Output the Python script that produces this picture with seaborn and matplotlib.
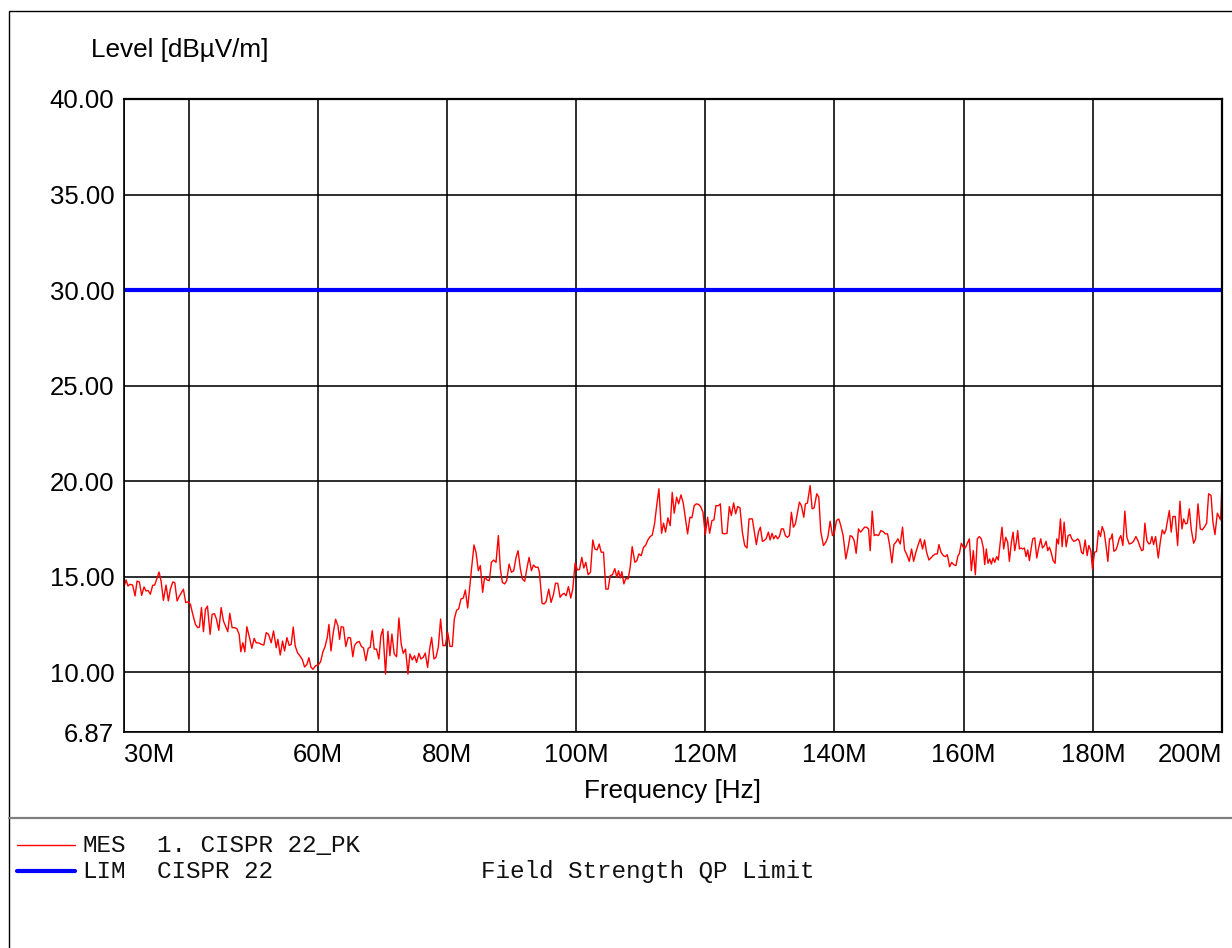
import numpy as np
import pandas as pd
import matplotlib
matplotlib.use("Agg")
import matplotlib.pyplot as plt
import seaborn as sns
from matplotlib.lines import Line2D
from matplotlib.patches import Rectangle

# ---------------- data (MHz, dBuV/m) ----------------
freq_a = [30.00, 30.31, 30.62, 30.93, 31.34, 31.71, 32.02, 32.38, 32.74, 33.10,
          33.41, 33.72, 34.08, 34.44, 34.75, 35.06, 35.43, 35.74, 36.10, 36.51,
          36.87, 37.18, 37.55, 37.86, 38.22, 38.58, 38.89, 39.20, 39.56, 39.97,
          40.28, 40.65, 41.06, 41.42, 41.68, 41.99, 42.30, 42.61, 42.92, 43.33,
          43.64, 44.01, 44.32, 44.68, 45.04, 45.40, 45.81, 46.07, 46.38, 46.74,
          47.11, 47.47, 47.83, 48.09, 48.40, 48.71, 49.02, 49.43, 49.79, 50.16,
          50.47, 50.88, 51.24, 51.65, 52.02, 52.38, 52.79, 53.15, 53.57, 53.82,
          54.19, 54.55, 54.86, 55.22, 55.58, 55.89, 56.20, 56.51, 56.87, 57.24,
          57.60, 57.96, 58.32, 58.63, 58.94, 59.25, 59.66, 60.08, 60.44, 60.80,
          61.11, 61.47, 61.73, 62.04, 62.40, 62.76, 63.13, 63.38]
level_a = [14.46, 14.83, 14.51, 14.60, 14.56, 13.99, 14.77, 14.72, 14.02, 14.46,
           14.25, 14.28, 14.08, 14.55, 14.56, 14.86, 15.24, 14.77, 13.76, 14.56,
           13.73, 14.34, 14.72, 14.69, 13.73, 13.99, 14.16, 14.34, 13.64, 13.69,
           13.55, 13.03, 12.50, 12.33, 12.36, 13.38, 12.12, 13.29, 13.46, 11.98,
           13.03, 13.06, 12.77, 12.19, 13.38, 12.68, 12.33, 12.12, 13.08, 12.33,
           12.33, 12.28, 11.98, 11.07, 11.54, 11.07, 12.38, 11.81, 11.25, 11.77,
           11.54, 11.53, 11.46, 11.42, 12.07, 11.98, 11.54, 12.16, 11.28, 11.72,
           10.90, 11.63, 11.11, 11.81, 11.40, 11.46, 12.36, 11.37, 11.02, 10.85,
           10.67, 10.27, 10.41, 10.76, 10.27, 10.15, 10.34, 10.38, 10.55, 11.07,
           11.32, 11.81, 12.50, 11.11, 12.07, 12.77, 12.42, 11.72]

freq_b = [63.62, 63.98, 64.34, 64.71, 65.07, 65.43, 65.69, 66.05, 66.41, 66.77,
          67.08, 67.45, 67.81, 68.12, 68.43, 68.74, 69.10, 69.46, 69.77, 70.08,
          70.49, 70.86, 71.17, 71.48, 71.84, 72.20, 72.56, 72.92, 73.23, 73.59,
          73.96, 74.27, 74.63, 74.99, 75.30, 75.66, 75.97, 76.33, 76.64, 77.01,
          77.32, 77.63, 77.99, 78.30, 78.66, 79.02, 79.38, 79.74, 80.11, 80.47,
          80.83, 81.14, 81.50, 81.81, 82.17, 82.53, 82.85, 83.21, 83.52, 83.83,
          84.19, 84.50, 84.86, 85.17, 85.53, 85.84, 86.20, 86.57, 86.88, 87.24,
          87.60, 87.96, 88.27, 88.58, 88.94, 89.25, 89.62, 89.98, 90.34, 90.70,
          91.01, 91.37, 91.68, 92.04, 92.41, 92.72, 93.08, 93.39, 93.75, 94.11,
          94.32]
level_b = [12.38, 12.35, 11.34, 11.82, 11.79, 10.81, 11.39, 11.56, 11.61, 11.34,
           11.27, 10.60, 11.25, 11.30, 12.17, 11.21, 11.21, 10.69, 11.91, 12.26,
           9.90, 12.14, 10.86, 12.00, 10.95, 10.81, 12.84, 11.47, 10.99, 11.21,
           9.90, 10.95, 10.64, 10.86, 10.51, 10.99, 10.69, 10.78, 11.00, 10.25,
           11.21, 11.82, 10.69, 10.78, 11.30, 12.78, 11.39, 11.39, 12.09, 11.35,
           11.35, 12.78, 13.25, 13.31, 13.83, 13.88, 14.30, 13.36, 14.44, 15.49,
           16.66, 16.27, 15.31, 15.58, 14.18, 15.00, 14.83, 14.79, 15.75, 15.87,
           15.75, 17.15, 15.40, 14.70, 14.62, 14.79, 15.66, 15.23, 15.31, 16.01,
           16.36, 15.40, 14.88, 14.76, 15.49, 16.01, 15.31, 15.61, 15.49, 15.49,
           15.23]

freq_c = [94.73, 95.04, 95.35, 95.76, 96.12, 96.49, 96.80, 97.16, 97.52, 97.83,
          98.14, 98.45, 98.81, 99.17, 99.48, 99.84, 100.21, 100.52, 100.88, 101.19,
          101.50, 101.86, 102.22, 102.58, 102.89, 103.26, 103.57, 103.88, 104.24, 104.60,
          104.96, 105.27, 105.63, 105.99, 106.30, 106.56, 106.82, 107.08, 107.39, 107.70,
          108.06, 108.37, 108.68, 109.10, 109.41, 109.72, 110.08, 110.44, 110.75, 111.11,
          111.47, 111.78, 112.14, 112.51, 112.82, 113.23, 113.54, 113.85, 114.21, 114.57,
          114.88, 115.19, 115.56, 115.87, 116.23, 116.59, 116.90, 117.26, 117.62, 117.93,
          118.29, 118.60, 118.97, 119.28, 119.64, 120.00, 120.36, 120.67, 121.03, 121.34,
          121.65, 122.02, 122.33, 122.64, 123.00, 123.36, 123.72, 124.03, 124.39, 124.70,
          125.01, 125.37, 125.74, 126.10, 126.46, 126.77]
level_c = [13.60, 13.57, 13.69, 14.35, 13.65, 14.06, 14.65, 14.65, 13.92, 14.06,
           14.13, 14.00, 14.48, 13.88, 14.35, 15.70, 15.35, 15.38, 16.01, 15.45,
           15.75, 15.10, 15.23, 16.92, 16.45, 16.40, 16.71, 16.28, 16.28, 14.35,
           14.35, 15.05, 15.10, 15.42, 14.97, 15.31, 14.93, 15.26, 14.62, 14.91,
           14.88, 15.49, 16.57, 15.75, 15.84, 16.19, 16.10, 16.54, 16.63, 16.92,
           17.10, 17.17, 17.76, 18.81, 19.60, 17.27, 17.80, 17.33, 18.08, 17.67,
           19.41, 18.32, 19.16, 18.81, 19.28, 18.85, 18.11, 17.24, 18.11, 18.08,
           18.72, 18.81, 18.78, 18.67, 18.37, 17.20, 18.11, 17.27, 17.94, 17.97,
           18.72, 18.71, 18.81, 17.27, 17.24, 17.27, 18.67, 18.20, 18.86, 18.29,
           18.67, 18.60, 17.33, 16.63, 16.50, 18.02]

freq_d = [127.29, 127.60, 127.91, 128.22, 128.53, 128.84, 129.10, 129.41, 129.77, 130.03,
          130.34, 130.59, 130.90, 131.21, 131.47, 131.78, 132.09, 132.40, 132.71, 133.02,
          133.33, 133.64, 133.95, 134.26, 134.57, 134.88, 135.25, 135.50, 135.81, 136.23,
          136.54, 136.85, 137.26, 137.57, 137.88, 138.29, 138.66, 138.97, 139.33, 139.69,
          140.00, 140.31, 140.67, 140.98, 141.34, 141.76, 142.12, 142.43, 142.74, 143.05,
          143.36, 143.72, 144.03, 144.34, 144.65, 144.96, 145.27, 145.53, 145.84, 146.15,
          146.46, 146.82, 147.18, 147.55, 147.86, 148.22, 148.53, 148.89, 149.20, 149.51,
          149.82, 150.18, 150.54, 150.85, 151.21, 151.58, 151.94, 152.25, 152.61, 152.92,
          153.28, 153.64, 153.95, 154.26, 154.63, 154.94, 155.25, 155.61, 155.92, 156.18,
          156.49, 156.85, 157.16, 157.47, 157.83, 158.14, 158.45, 158.81, 159.12, 159.33]
level_d = [18.02, 17.33, 16.68, 17.33, 17.59, 16.85, 16.89, 16.98, 17.33, 16.92,
           17.27, 16.98, 17.15, 16.98, 17.10, 17.50, 17.50, 17.15, 17.06, 17.15,
           18.37, 17.59, 17.76, 18.32, 18.90, 18.72, 18.11, 18.81, 18.85, 19.77,
           18.55, 18.60, 19.34, 19.16, 17.36, 16.63, 16.80, 17.06, 17.90, 17.15,
           17.33, 17.94, 18.02, 17.67, 17.15, 15.93, 16.54, 17.15, 17.10, 16.89,
           16.22, 17.50, 17.33, 17.45, 17.59, 17.59, 17.50, 16.36, 18.43, 17.15,
           17.20, 17.15, 17.41, 17.36, 17.24, 17.24, 16.68, 15.72, 16.68, 16.80,
           16.98, 16.71, 17.59, 16.40, 16.15, 15.80, 16.45, 15.80, 16.28, 16.63,
           16.98, 16.45, 16.92, 16.28, 15.87, 15.98, 16.10, 16.19, 16.19, 16.68,
           16.28, 16.10, 16.05, 16.15, 15.52, 15.75, 15.63, 15.58, 16.10, 16.19]

freq_e = [159.64, 159.95, 160.26, 160.57, 160.88, 161.19, 161.50, 161.81, 162.12, 162.43,
          162.74, 163.05, 163.26, 163.51, 163.77, 164.03, 164.29, 164.55, 164.81, 165.12,
          165.37, 165.63, 165.94, 166.20, 166.51, 166.82, 167.08, 167.39, 167.65, 167.91,
          168.17, 168.37, 168.63, 168.89, 169.15, 169.41, 169.66, 169.92, 170.18, 170.44,
          170.70, 171.01, 171.32, 171.63, 171.94, 172.20, 172.51, 172.76, 173.02, 173.28,
          173.54, 173.85, 174.16, 174.42, 174.68, 174.99, 175.25, 175.56, 175.87, 176.18,
          176.49, 176.74, 177.05, 177.36, 177.67, 177.93, 178.24, 178.50, 178.81, 179.12,
          179.38, 179.69, 179.95, 180.26, 180.57, 180.88, 181.19, 181.45, 181.76, 182.07,
          182.33, 182.58]
level_e = [16.75, 16.54, 16.50, 16.75, 16.98, 15.31, 16.36, 15.10, 16.98, 17.10,
           16.98, 16.50, 15.63, 16.45, 15.70, 15.93, 15.66, 15.98, 15.75, 16.05,
           15.87, 16.68, 17.59, 16.45, 17.06, 16.80, 15.80, 16.80, 17.33, 16.36,
           16.85, 17.41, 16.45, 16.50, 16.45, 16.50, 16.05, 16.40, 15.84, 16.45,
           16.98, 17.03, 15.98, 16.54, 16.98, 16.50, 16.63, 16.85, 16.36, 16.54,
           16.28, 15.84, 15.70, 16.98, 16.71, 18.02, 16.57, 17.85, 16.57, 17.15,
           17.20, 16.98, 16.85, 16.89, 16.98, 16.85, 16.28, 16.19, 16.92, 16.10,
           16.63, 16.36, 15.40, 16.28, 16.31, 17.41, 17.10, 17.62, 17.33, 16.54,
           15.80, 16.98]

freq_f = [182.79, 183.00, 183.26, 183.57, 183.82, 184.08, 184.34, 184.65, 184.96, 185.27,
          185.63, 185.99, 186.30, 186.67, 186.98, 187.24, 187.55, 187.80, 188.06, 188.37,
          188.68, 188.89, 189.15, 189.41, 189.72, 190.13, 190.44, 190.75, 191.06, 191.32,
          191.58, 191.84, 192.14, 192.40, 192.76, 193.13, 193.49, 193.80, 194.06, 194.37,
          194.63, 194.94, 195.25, 195.61, 195.92, 196.28, 196.64, 196.95, 197.26, 197.62,
          197.93, 198.30, 198.60, 198.91, 199.28, 199.59, 199.79, 200.00]
level_f = [16.98, 17.24, 16.33, 16.40, 16.63, 16.98, 17.15, 16.63, 18.43, 17.06,
           16.71, 16.75, 16.85, 17.10, 16.89, 16.63, 16.36, 16.40, 17.80, 16.89,
           16.71, 16.75, 17.10, 16.68, 17.10, 15.98, 16.80, 17.45, 17.24, 17.45,
           17.94, 18.46, 17.33, 18.15, 18.15, 16.63, 18.95, 17.50, 18.02, 17.76,
           17.80, 18.55, 17.45, 16.75, 16.98, 18.81, 17.50, 17.45, 17.59, 17.80,
           19.34, 19.25, 17.85, 17.20, 18.32, 18.11, 17.97, 19.90]

limit_freq = [30.0, 200.0]
limit_level = [30.0, 30.0]

xtick_vals = [30, 40, 60, 80, 100, 120, 140, 160, 180, 200]
xtick_labels = ["30M", "", "60M", "80M", "100M", "120M", "140M", "160M", "180M", "200M"]
ytick_vals = [6.87, 10, 15, 20, 25, 30, 35, 40]
ytick_labels = ["6.87", "10.00", "15.00", "20.00", "25.00", "30.00", "35.00", "40.00"]

# ---------------- plotting ----------------
sns.set_style("white")
plt.rcParams['font.family'] = ['Liberation Sans', 'DejaVu Sans']

W, H = 1232, 948
fig = plt.figure(figsize=(W / 100, H / 100), dpi=100)
fig.patch.set_facecolor("white")
ax = fig.add_axes([124 / W, 1 - 732 / H, 1098 / W, 633 / H])

mes = pd.DataFrame({
    "Frequency": freq_a + freq_b + freq_c + freq_d + freq_e + freq_f,
    "Level": level_a + level_b + level_c + level_d + level_e + level_f,
})
lim = pd.DataFrame({"Frequency": limit_freq, "Level": limit_level})

sns.lineplot(data=mes, x="Frequency", y="Level", ax=ax, color="#ff0000",
             linewidth=1.0, estimator=None, sort=False, zorder=4)
sns.lineplot(data=lim, x="Frequency", y="Level", ax=ax, color="#0000ff",
             linewidth=3.0, estimator=None, sort=False, zorder=5)

ax.set_xlim(30, 200)
ax.set_ylim(6.87, 40)
ax.set_xticks(xtick_vals)
ax.set_xticklabels(xtick_labels)
ax.set_yticks(ytick_vals)
ax.set_yticklabels(ytick_labels)
ax.tick_params(axis="both", length=0, labelsize=18.5, colors="black")
ax.tick_params(axis="x", pad=8)
ax.tick_params(axis="y", pad=7)
xl = ax.get_xticklabels()
xl[0].set_horizontalalignment("left")
xl[-1].set_horizontalalignment("right")

ax.grid(True, color="black", linewidth=1.15)
ax.set_axisbelow(True)
for side, sp in ax.spines.items():
    sp.set_visible(True)
    sp.set_color("black")
    sp.set_linewidth(1.6 if side in ("top", "right") else 1.2)
    sp.set_zorder(6)

ax.set_xlabel("Frequency [Hz]", fontsize=18.8, color="black")
ax.xaxis.set_label_coords(0.5, (732 - 798) / 633)
ax.xaxis.label.set_verticalalignment("baseline")
ax.set_ylabel("Level [dBµV/m]", fontsize=18.8, rotation=0, color="black")
ax.yaxis.set_label_coords((91 - 124) / 1098, (732 - 56.7) / 633)
ax.yaxis.label.set_horizontalalignment("left")
ax.yaxis.label.set_verticalalignment("baseline")

# frame and separator
fig.add_artist(Rectangle((9 / W, -0.1), 1.2, (1 - 11 / H) + 0.1, transform=fig.transFigure,
                         facecolor="none", edgecolor="black", linewidth=1.0))
fig.add_artist(Line2D([9 / W, 1.0], [1 - 818 / H] * 2, transform=fig.transFigure,
                      color="#808080", linewidth=1.6))

# legend block
mono = ["Liberation Mono", "DejaVu Sans Mono"]
fig.add_artist(Line2D([17 / W, 75 / W], [1 - 845 / H] * 2, transform=fig.transFigure,
                      color="#ff0000", linewidth=1.0))
fig.add_artist(Line2D([17 / W, 75 / W], [1 - 871 / H] * 2, transform=fig.transFigure,
                      color="#0000ff", linewidth=3.0, solid_capstyle="round"))
rows = [
    (852, [(82, "MES"), (157, "1. CISPR 22_PK")]),
    (878, [(82, "LIM"), (157, "CISPR 22"), (481, "Field Strength QP Limit")]),
]
for yb, items in rows:
    for xp, s in items:
        fig.text(xp / W, 1 - yb / H, s, family=mono, fontsize=17.5,
                 va="baseline", ha="left", color="#111111")

fig.savefig("out.png", dpi=100)
